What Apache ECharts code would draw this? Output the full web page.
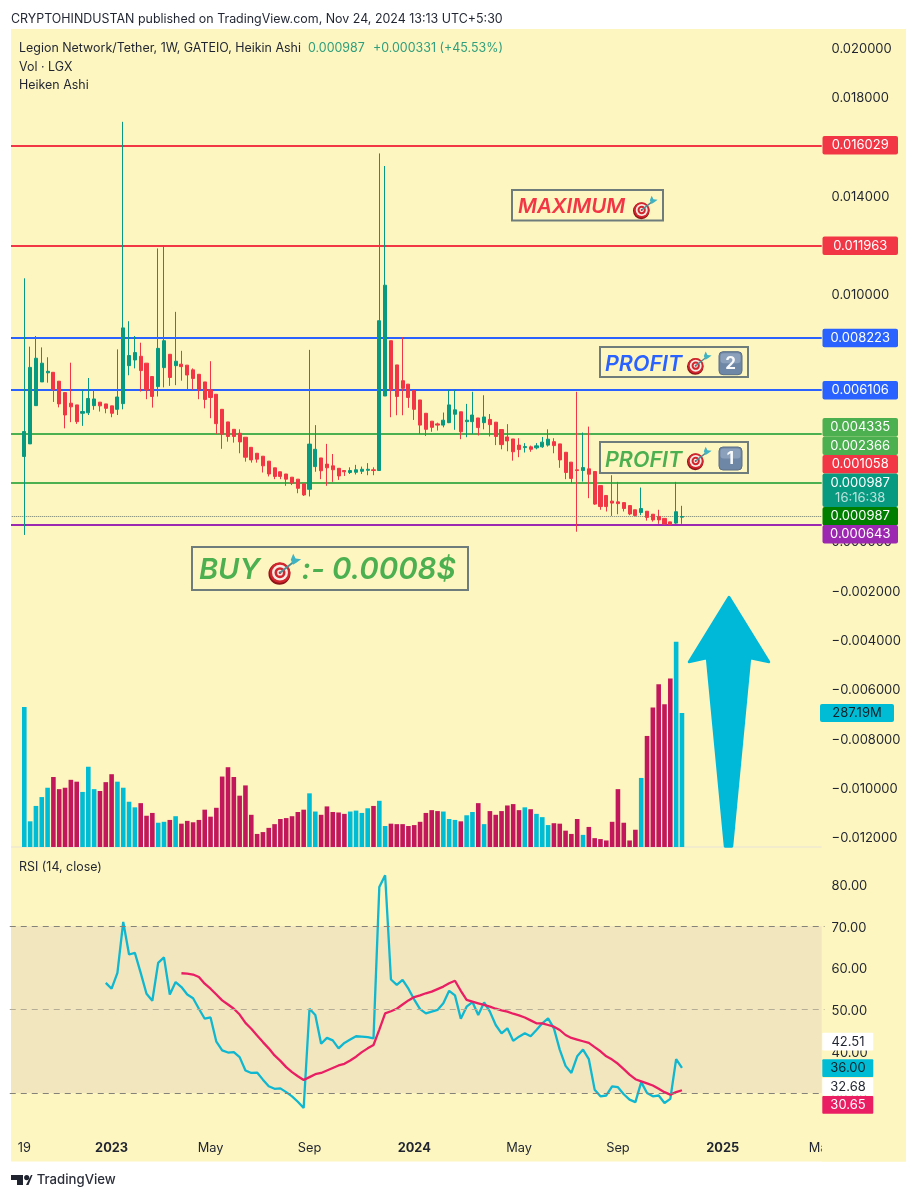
<!DOCTYPE html>
<html>
<head>
<meta charset="utf-8">
<title>Legion Network/Tether</title>
<script src="https://cdn.jsdelivr.net/npm/echarts@6/dist/echarts.min.js"></script>
<style>
  html, body { margin: 0; padding: 0; background: #fff; }
  #main { width: 923px; height: 1200px; }
</style>
</head>
<body>
<div id="main"></div>
<script>
// weekly candles, first one is 2022-09-19
const opens = [
  .00342,.00393,.00548,.00644,.00681,.00683,.00647,.00601,.00558,.00551,
  .00517,.00519,.00548,.00562,.00555,.00547,.00533,.00556,.00710,.00733,
  .00748,.00720,.00666,.00625,.00702,.00756,.00710,.00716,.00712,.00693,
  .00675,.00644,.00612,.00594,.00533,.00482,.00452,.00436,.00420,.00379,
  .00355,.00343,.00323,.00296,.00280,.00271,.00258,.00250,.00231,.00209,
  .00301,.00336,.00311,.00304,.00294,.00285,.00277,.00278,.00282,.00286,
  .00288,.00285,.00587,.00811,.00713,.00649,.00635,.00609,.00571,.00517,
  .00485,.00474,.00469,.00479,.00513,.00523,.00483,.00483,.00498,.00479,
  .00492,.00481,.00451,.00421,.00413,.00388,.00378,.00381,.00377,.00381,
  .00388,.00402,.00393,.00359,.00319,.00288,.00285,.00292,.00281,.00224,
  .00184,.00161,.00158,.00155,.00143,.00126,.00115,.00120,.00108,.00099,
  .00091,.00077,.00072,.00096
];
const closes = [
  .00443,.00703,.00740,.00720,.00687,.00612,.00555,.00510,.00543,.00483,
  .00524,.00577,.00575,.00547,.00537,.00517,.00583,.00863,.00751,.00763,
  .00690,.00612,.00585,.00780,.00811,.00662,.00728,.00706,.00672,.00658,
  .00614,.00573,.00581,.00475,.00432,.00423,.00423,.00401,.00339,.00328,
  .00331,.00304,.00271,.00261,.00261,.00250,.00234,.00213,.00186,.00392,
  .00371,.00284,.00296,.00288,.00263,.00280,.00285,.00288,.00290,.00290,
  .00285,.00892,.01036,.00612,.00585,.00618,.00581,.00533,.00469,.00452,
  .00460,.00469,.00489,.00551,.00531,.00442,.00489,.00510,.00459,.00502,
  .00471,.00423,.00390,.00405,.00361,.00370,.00382,.00371,.00385,.00400,
  .00412,.00386,.00328,.00277,.00253,.00285,.00297,.00270,.00149,.00139,
  .00139,.00153,.00151,.00131,.00109,.00103,.00131,.00095,.00085,.00085,
  .00068,.00066,.00118,.000987
];
const lows = [
  .00024,.00393,.00548,.00644,.00641,.00563,.00541,.00456,.00481,.00474,
  .00466,.00510,.00531,.00524,.00517,.00501,.00510,.00533,.00671,.00699,
  .00605,.00574,.00540,.00585,.00622,.00628,.00631,.00649,.00614,.00612,
  .00574,.00537,.00497,.00433,.00373,.00402,.00398,.00355,.00321,.00317,
  .00317,.00277,.00261,.00250,.00250,.00223,.00226,.00193,.00182,.00180,
  .00280,.00250,.00223,.00239,.00247,.00263,.00271,.00269,.00271,.00266,
  .00266,.00285,.00587,.00501,.00509,.00509,.00539,.00490,.00433,.00425,
  .00442,.00447,.00460,.00477,.00450,.00412,.00420,.00433,.00427,.00452,
  .00423,.00388,.00371,.00363,.00325,.00339,.00358,.00361,.00371,.00377,
  .00382,.00355,.00296,.00250,.00234,.00037,.00240,.00173,.00146,.00126,
  .00119,.00101,.00108,.00119,.00104,.00099,.00104,.00082,.00078,.00069,
  .00066,.00066,.00069,.00069
];
const highs = [
  .01064,.00787,.00830,.00784,.00744,.00683,.00647,.00601,.00722,.00551,
  .00612,.00660,.00612,.00562,.00555,.00547,.00776,.01698,.00890,.00830,
  .00803,.00720,.00666,.01185,.01195,.00756,.00928,.00770,.00712,.00699,
  .00675,.00644,.00728,.00594,.00533,.00482,.00452,.00452,.00420,.00379,
  .00355,.00343,.00323,.00296,.00280,.00271,.00258,.00250,.00231,.00774,
  .00469,.00336,.00393,.00352,.00294,.00285,.00298,.00308,.00301,.00315,
  .00298,.01570,.01519,.00811,.00713,.00825,.00635,.00609,.00571,.00517,
  .00485,.00479,.00520,.00612,.00612,.00523,.00555,.00604,.00498,.00590,
  .00514,.00481,.00451,.00473,.00413,.00416,.00396,.00386,.00396,.00421,
  .00452,.00416,.00393,.00359,.00319,.00604,.00439,.00463,.00281,.00224,
  .00184,.00266,.00239,.00155,.00143,.00126,.00216,.00120,.00108,.00126,
  .00091,.00077,.00239,.00142
];

// volume in millions, volUp: 1 = cyan bar, 0 = crimson bar
const volumes = [
  300,55,88,107,127,150,124,127,144,140,
  118,172,124,120,139,156,140,127,97,85,
  94,67,73,52,54,58,66,50,56,53,
  58,80,65,84,151,171,150,110,132,69,
  28,32,41,49,60,62,66,75,80,115,
  76,69,87,75,74,71,76,78,73,83,
  88,99,45,50,49,49,45,47,54,73,
  79,77,76,60,58,55,68,75,94,49,
  77,69,77,89,92,79,85,81,71,64,
  47,51,50,35,28,60,26,43,19,17,
  14,54,124,52,14,37,148,238,299,349,
  306,361,440,287.19
];
const volUp = [
  1,1,1,1,1,0,0,0,0,0,
  1,1,1,0,0,0,1,1,1,1,
  0,0,0,1,1,0,1,0,0,0,
  0,0,0,0,0,0,0,0,0,0,
  0,0,0,0,0,0,0,0,0,1,
  1,0,0,0,0,0,1,1,1,1,
  0,1,1,0,0,0,0,0,0,0,
  0,0,1,1,1,0,1,1,0,1,
  0,0,0,0,0,0,1,0,1,1,
  1,0,0,0,0,0,1,0,0,0,
  0,0,0,0,0,0,1,0,0,0,
  0,0,1,1
];

// RSI starts on candle 14, its average on candle 27
const rsiStart = 14;
const rsiValues = [
  56.4,55.0,58.8,71.0,63.2,63.6,58.8,53.8,52.1,61.2,
  62.5,53.6,56.6,55.4,53.6,52.7,50.2,47.8,48.1,42.3,
  40.2,39.7,39.8,38.6,35.4,34.8,34.9,33.2,31.6,31.0,
  31.1,30.2,29.2,27.9,26.4,50.2,48.7,41.8,43.2,42.6,
  40.7,42.0,42.8,43.6,43.5,43.4,43.1,79.4,82.2,57.2,
  55.9,57.1,55.0,52.4,50.1,49.1,49.5,49.9,51.5,54.5,
  53.4,47.8,50.7,51.8,48.7,51.7,49.5,46.3,44.3,45.5,
  42.5,43.5,44.3,43.6,45.1,46.7,47.9,45.5,40.4,36.5,
  34.8,38.8,40.4,38.1,30.8,29.2,29.4,31.6,31.4,29.7,
  28.4,27.8,32.6,30.0,29.2,29.4,27.6,28.6,38.1,36.0
];
const maStart = 27;
const maValues = [
  58.7,58.6,58.4,57.8,56.2,55.0,53.6,52.2,51.2,50.2,
  48.8,46.8,45.4,43.8,42.2,40.7,39.0,37.7,36.2,35.0,
  34.0,33.1,33.8,34.5,34.8,35.4,36.0,36.6,37.0,37.8,
  38.7,39.8,40.7,41.5,45.2,49.1,49.6,50.2,51.2,52.2,
  53.0,53.4,53.9,54.3,54.9,55.5,56.3,56.9,54.5,52.3,
  51.9,51.5,51.1,50.7,50.2,49.8,49.5,49.0,48.6,48.1,
  47.4,46.7,46.7,46.3,45.9,45.1,43.9,43.2,42.8,42.4,
  42.0,41.0,40.0,38.8,38.0,37.0,35.7,34.4,33.3,32.8,
  32.3,31.8,31.0,30.2,29.6,30.2,30.65
];
const rsiGuides = [70, 50, 30];

// horizontal levels
const redLevels = [0.016029, 0.011963];
const blueLevels = [0.008223, 0.006106];
const greenLevels = [0.004335, 0.002366];
const purpleLevels = [0.000643];
const lastClose = 0.000987;

// time axis
const tickDates = ['2022-09-19','2023-01-02','2023-05-01','2023-08-28','2024-01-01','2024-05-06','2024-09-02','2025-01-06','2025-05-05'];
const tickTexts = ['19','2023','May','Sep','2024','May','Sep','2025','May'];

const BG = '#fdf6c0', UP = '#089981', DOWN = '#f23645';
const PAD = 2, SLOTS = 140;
const FONT = 'Inter, "Liberation Sans", sans-serif';

const categories = [];
for (let k = 0; k < SLOTS; k++) {
  const d = new Date(Date.UTC(2022, 8, 19 + (k - PAD) * 7));
  categories.push(d.toISOString().slice(0, 10));
}
const blank = () => Array(PAD).fill('-');
const padded = arr => blank().concat(arr);

const candleData = [['-','-','-','-'],['-','-','-','-']].concat(
  opens.map((o, i) => [o, closes[i], lows[i], highs[i]])
);
const volData = padded(volumes.map((v, i) => ({
  value: v,
  itemStyle: { color: volUp[i] ? '#00bcd4' : '#c2185b' }
})));
const rsiData = Array(PAD + rsiStart).fill('-').concat(rsiValues);
const maData = Array(PAD + maStart).fill('-').concat(maValues);

function levelLines(list, color) {
  return list.map(v => ({ yAxis: v, lineStyle: { color: color, width: 2.2, type: 'solid' } }));
}

// layout shared by the three panes
const plotX = { left: 9.75, width: 814.8 };

function priceLabel(v) {
  const r = Math.round(v * 1e6) / 1e6;
  if (r === 0.008) return ''; // sits behind the 0.008223 tag
  return '{p|' + (r < 0 ? '\u2212' : '') + Math.abs(r).toFixed(6) + '}';
}

// ---------- drawn overlays ----------
const gfx = [];
function rect(x, y, w, h, fill, z, r, stroke, lw) {
  gfx.push({ type: 'rect', silent: true, z: z,
    shape: { x: x, y: y, width: w, height: h, r: r || 0 },
    style: { fill: fill, stroke: stroke || null, lineWidth: lw || 0 } });
}
function label(x, y, text, font, fill, z, align) {
  gfx.push({ type: 'text', silent: true, z: z,
    style: { x: x, y: y, text: text, font: font, fill: fill, align: align || 'left', verticalAlign: 'middle' } });
}
function circle(cx, cy, r, fill, z) {
  gfx.push({ type: 'circle', silent: true, z: z, shape: { cx: cx, cy: cy, r: r }, style: { fill: fill } });
}
function poly(points, fill, z, stroke, lw) {
  gfx.push({ type: 'polygon', silent: true, z: z, shape: { points: points },
    style: { fill: fill, stroke: stroke || null, lineWidth: lw || 0, lineJoin: 'round' } });
}
// the dart emoji
function target(cx, cy, r) {
  const z = 12;
  circle(cx - r * 0.05, cy + r * 0.1, r, '#8f1418', z);
  circle(cx, cy, r * 0.94, '#d2262e', z);
  circle(cx, cy, r * 0.72, '#f6ece4', z);
  circle(cx, cy, r * 0.5, '#d2262e', z);
  circle(cx, cy, r * 0.26, '#f6ece4', z);
  circle(cx, cy, r * 0.12, '#d2262e', z);
  gfx.push({ type: 'line', silent: true, z: z,
    shape: { x1: cx, y1: cy, x2: cx + r * 1.2, y2: cy - r * 0.95 },
    style: { stroke: '#4e8c96', lineWidth: r * 0.16 } });
  poly([[cx + r * 0.98, cy - r * 1.18], [cx + r * 1.2, cy - r * 1.72], [cx + r * 1.42, cy - r * 1.3],
        [cx + r * 1.92, cy - r * 1.22], [cx + r * 1.52, cy - r * 0.92], [cx + r * 1.18, cy - r * 0.72]], '#3fb3c2', z);
}
function keycap(x, y, s, digit) {
  rect(x, y, s, s, '#6f87a6', 12, 4, '#5c6f86', 1);
  rect(x + 1.5, y + 1.5, s - 3, (s - 3) / 2, '#8ba0ba', 12, 3);
  label(x + s / 2, y + s / 2 + 0.5, digit, '700 17px ' + FONT, '#f7f9fb', 13, 'center');
}

// header and legend
const txt = '12.45px ' + FONT;
label(11, 19, 'CRYPTOHINDUSTAN published on TradingView.com, Nov 24, 2024 13:13 UTC+5:30', txt, '#1f2430', 12);
label(19, 48, 'Legion Network/Tether, 1W, GATEIO, Heikin Ashi', txt, '#1f2430', 12);
label(308, 48, lastClose.toFixed(6), txt, '#2f9e7c', 12);
label(373, 48, '+0.000331 (+45.53%)', txt, '#2f9e7c', 12);
label(19, 67, 'Vol \u00b7 LGX', txt, '#1f2430', 12);
label(19, 85, 'Heiken Ashi', txt, '#1f2430', 12);
label(19, 867, 'RSI (14, close)', txt, '#1f2430', 12);

// price tags; they are pushed apart the way the app stacks them
const TAG_X = 822.5, TAG_W = 75.5, TAG_H = 18.4;
const tagFont = '13px ' + FONT;
const priceTags = [
  [redLevels[0], 136, DOWN], [redLevels[1], 236.5, DOWN],
  [blueLevels[0], 328.8, '#2962ff'], [blueLevels[1], 381, '#2962ff'],
  [greenLevels[0], 418, '#4caf50'], [greenLevels[1], 436.6, '#4caf50'],
  [0.001058, 455, DOWN], [lastClose, 507, '#007e00'], [purpleLevels[0], 525, '#9c27b0']
];
priceTags.forEach(t => {
  rect(TAG_X, t[1], TAG_W, TAG_H, t[2], 10, 2);
  label(TAG_X + TAG_W / 2, t[1] + TAG_H / 2 + 0.3, t[0].toFixed(6), tagFont, '#ffffff', 11, 'center');
});
rect(TAG_X, 473.4, TAG_W, 33.6, UP, 10, 2);
label(TAG_X + TAG_W / 2, 483, lastClose.toFixed(6), tagFont, '#ffffff', 11, 'center');
label(TAG_X + TAG_W / 2, 498, '16:16:38', tagFont, 'rgba(255,255,255,0.72)', 11, 'center');
rect(820, 704, 74, 18, '#00bcd4', 10, 2);
label(857, 713.3, volumes[volumes.length - 1].toFixed(2) + 'M', tagFont, '#10222a', 11, 'center');

// RSI tags
[[42.51, 1032.7, '#ffffff', '#1f2430'], [rsiValues[rsiValues.length - 1], 1059.3, '#00bcd4', '#10222a'],
 [32.68, 1078, '#ffffff', '#1f2430'], [maValues[maValues.length - 1], 1096, '#e91e63', '#ffffff']].forEach(t => {
  rect(822.3, t[1], 51, 17.8, t[2], 10, 1);
  label(848, t[1] + 9.2, t[0].toFixed(2), tagFont, t[3], 11, 'center');
});

// hand drawn annotations
const note = 'italic 600 ';
rect(512, 190, 151, 30.5, BG, 11, 0, '#6f7c7c', 2);
label(518, 207, 'MAXIMUM', note + '20.5px ' + FONT, DOWN, 12);
target(641.7, 210, 8.3);

rect(600, 347, 148, 30, BG, 11, 0, '#6f7c7c', 2);
label(605, 364.5, 'PROFIT', note + '21.5px ' + FONT, '#2962ff', 12);
target(695.7, 365.7, 8.3);
keycap(719, 351.7, 23, '2');

rect(600, 442, 148, 31, BG, 11, 0, '#6f7c7c', 2);
label(605, 460.5, 'PROFIT', note + '21.5px ' + FONT, '#4caf50', 12);
target(695.7, 461, 8.3);
keycap(719, 447, 23, '1');

rect(192, 547, 276, 43, BG, 11, 0, '#6f7c7c', 2);
label(199, 570.5, 'BUY', note + '29px ' + FONT, '#4caf50', 12);
target(280, 572.7, 11);
label(301.5, 570.5, ':- 0.0008$', note + '29.5px ' + FONT, '#4caf50', 12);

// up arrow
poly([[729, 597], [769, 662], [750, 658], [732, 846.5], [725, 846.5], [707, 658], [689, 662]], '#00b8d8', 9, '#00b8d8', 2.5);

// TradingView mark
poly([[11, 1175], [23, 1175], [23, 1185], [17, 1185], [17, 1180], [11, 1180]], '#1f2430', 12);
circle(26.7, 1177.6, 2.6, '#1f2430', 12);
poly([[26, 1185], [31, 1175], [32.5, 1175], [28.5, 1185]], '#1f2430', 12);
label(36.7, 1180, 'TradingView', '500 13.2px ' + FONT, '#2a2e39', 12);

// panel, plus two strips that hide what the padded plot leaves past its edges
rect(11, 29, 895, 1132.5, BG, -5);
rect(0, 29, 11, 1132.5, '#ffffff', 3);
rect(821.7, 29, 84.3, 1132.5, BG, 3);

// nudges the scale labels down a little
const yRich = { p: { padding: [3, 0, 0, 0], color: '#1f2430', fontFamily: FONT, fontSize: 13 } };
const option = {
  backgroundColor: '#ffffff',
  animation: false,
  grid: [
    { left: plotX.left, width: plotX.width, top: 47.3, height: 789.7 },
    { left: plotX.left, width: plotX.width, top: 613.7, height: 233.3 },
    { left: plotX.left, width: plotX.width, top: 842.7, height: 292 }
  ],
  xAxis: [
    { type: 'category', gridIndex: 0, data: categories, show: false },
    { type: 'category', gridIndex: 1, data: categories,
      axisLine: { show: true, lineStyle: { color: '#efe9cf', width: 1.5 } },
      axisTick: { show: false }, axisLabel: { show: false } },
    { type: 'category', gridIndex: 2, data: categories,
      axisLine: { show: false }, axisTick: { show: false },
      axisLabel: {
        margin: 7, hideOverlap: false, color: '#1f2430', fontFamily: FONT, fontSize: 12.8,
        interval: (idx, val) => tickDates.indexOf(val) >= 0,
        formatter: val => {
          const t = tickTexts[tickDates.indexOf(val)];
          return t.length === 4 ? '{yr|' + t + '}' : t;
        },
        rich: { yr: { fontWeight: 700, color: '#1f2430', fontFamily: FONT, fontSize: 12.8 } }
      } }
  ],
  yAxis: [
    { type: 'value', gridIndex: 0, position: 'right', z: 5, min: -0.012, max: 0.02, interval: 0.002,
      axisLine: { show: false }, axisTick: { show: false }, splitLine: { show: false },
      axisLabel: { margin: 7, formatter: priceLabel, rich: yRich } },
    { type: 'value', gridIndex: 1, min: 0, max: 500, show: false, splitLine: { show: false } },
    { type: 'value', gridIndex: 2, position: 'right', z: 5, min: 20, max: 90, interval: 10,
      axisLine: { show: false }, axisTick: { show: false }, splitLine: { show: false },
      axisLabel: { margin: 7, rich: yRich,
        formatter: v => (v === 20 || v === 90) ? '' : '{p|' + v.toFixed(2) + '}' } }
  ],
  series: [
    { type: 'bar', name: 'Vol', xAxisIndex: 1, yAxisIndex: 1, data: volData, barWidth: 4.6, z: 1, silent: true },
    { type: 'candlestick', name: 'LGX', xAxisIndex: 0, yAxisIndex: 0, data: candleData, barWidth: 3.6, z: 2, silent: true, clip: false,
      itemStyle: { color: UP, color0: DOWN, borderColor: UP, borderColor0: DOWN, borderWidth: 1 },
      markLine: { silent: true, symbol: 'none', precision: 6, z: 1, animation: false, label: { show: false },
        data: levelLines(redLevels, DOWN)
          .concat(levelLines(blueLevels, '#2962ff'))
          .concat(levelLines(greenLevels, '#4caf50'))
          .concat(levelLines(purpleLevels, '#9c27b0'))
          .concat([{ yAxis: lastClose, lineStyle: { color: '#6d7a70', width: 1, type: 'dotted' } }]) } },
    { type: 'line', name: 'RSI', xAxisIndex: 2, yAxisIndex: 2, data: rsiData, showSymbol: false, silent: true, z: 2,
      lineStyle: { color: '#0fb7d0', width: 2.3 },
      markArea: { silent: true, itemStyle: { color: '#f2e6bf' }, data: [[{ yAxis: 30 }, { yAxis: 70 }]] },
      markLine: { silent: true, symbol: 'none', label: { show: false },
        data: rsiGuides.map(v => ({ yAxis: v, lineStyle: { color: v === 50 ? '#b5ad96' : '#85827a', width: 1, type: [6, 5] } })) } },
    { type: 'line', name: 'RSI MA', xAxisIndex: 2, yAxisIndex: 2, data: maData, showSymbol: false, silent: true, z: 3,
      lineStyle: { color: '#e91e63', width: 2.3 } }
  ],
  graphic: { elements: gfx }
};

const chart = echarts.init(document.getElementById('main'), null, { renderer: 'canvas' });
chart.setOption(option);
</script>
</body>
</html>
